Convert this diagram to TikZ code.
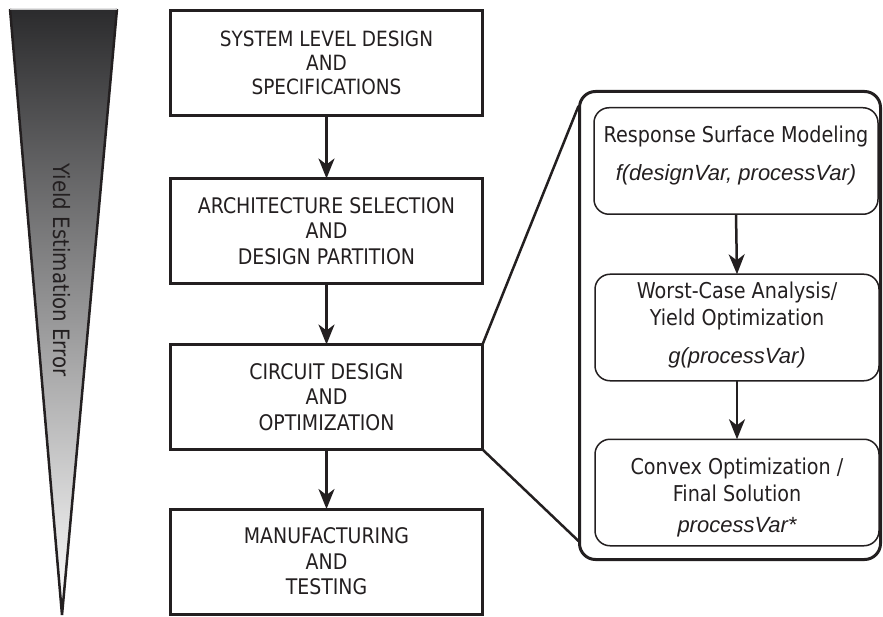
\documentclass[tikz,border=0pt]{standalone}
\usepackage{fontspec}
\setmainfont{DejaVu Sans}[FakeStretch=0.88]
\newfontfamily\itfont{Liberation Sans}
\usetikzlibrary{arrows.meta}
\definecolor{ink}{HTML}{231F20}
\definecolor{tritop}{HTML}{2B2B2D}
\definecolor{trimid}{HTML}{B4B5B8}
\tikzset{
  lbox/.style={draw=ink, line width=3pt, minimum width=312pt, minimum height=105pt,
    inner sep=0pt, outer sep=0pt, align=center, text=ink,
    font=\fontsize{21.5}{25.5}\selectfont},
  rbox/.style={draw=ink, line width=1.5pt, rounded corners=15pt, minimum width=284pt,
    minimum height=106.5pt, inner sep=0pt, outer sep=0pt},
  rtxt/.style={align=center, text=ink, inner sep=0pt, font=\fontsize{21.8}{27}\selectfont},
  panel/.style={draw=ink, line width=3pt, rounded corners=16pt, minimum width=301pt,
    minimum height=468pt, inner sep=0pt, outer sep=0pt},
  arr/.style={draw=ink, line width=2.5pt, -{Stealth[length=20pt,width=16pt,inset=6pt]}},
  conn/.style={draw=ink, line width=2.5pt}
}
\newcommand{\itv}[1]{{\itfont\itshape\fontsize{22}{27}\selectfont #1}}
\begin{document}
\begin{tikzpicture}[x=1pt,y=-1pt]
\useasboundingbox (0,0) rectangle (883,617);
% triangle
\shade[top color=tritop, middle color=trimid, bottom color=white] (10,9) -- (117,9) -- (62,615) -- cycle;
\draw[ink, line width=2.5pt, line join=miter] (10,9) -- (62,615) -- (117,9);
\draw[gray!45, line width=0.8pt] (10,9) -- (117,9);
\node[rotate=-90, text=ink, inner sep=0pt, font=\fontsize{22.5}{27}\selectfont] (yee) at (62,270) {Yield Estimation Error};
% left flow
\node[lbox, font=\fontsize{21}{24}\selectfont] (b1) at (326.5,63) {SYSTEM LEVEL DESIGN\\AND\\SPECIFICATIONS};
\node[lbox] (b2) at (326.5,231) {ARCHITECTURE SELECTION\\AND\\DESIGN PARTITION};
\node[lbox] (b3) at (326.5,397) {CIRCUIT DESIGN\\AND\\OPTIMIZATION};
\node[lbox] (b4) at (326.5,561.5) {MANUFACTURING\\AND\\TESTING};
\draw[arr] (b1.south) -- (b2.north);
\draw[arr] (b2.south) -- (b3.north);
\draw[arr] (b3.south) -- (b4.north);
% right panel
\node[panel] (pnl) at (730,325.5) {};
\coordinate (pt) at (578.5,106);
\coordinate (pb) at (578.5,541);
\draw[conn] (b3.north east) -- (pt);
\draw[conn] (b3.south east) -- (pb);
\node[rbox] (ra) at (736,161) {};
\node[rbox] (rb) at (737,327.5) {};
\node[rbox] (rc) at (737,492.5) {};
\node[rtxt] (rat) at (736,156) {Response Surface Modeling\\[11pt]\itv{f(designVar, processVar)}};
\node[rtxt] (rbt) at (737,325) {Worst-Case Analysis/\\Yield Optimization\\[11pt]\itv{g(processVar)}};
\node[rtxt] (rct) at (737,497) {Convex Optimization /\\Final Solution\\[4pt]\itv{processVar*}};
\draw[arr] (ra.south) -- (rb.north);
\draw[arr] (rb.south) -- (rc.north);
\end{tikzpicture}
\end{document}
